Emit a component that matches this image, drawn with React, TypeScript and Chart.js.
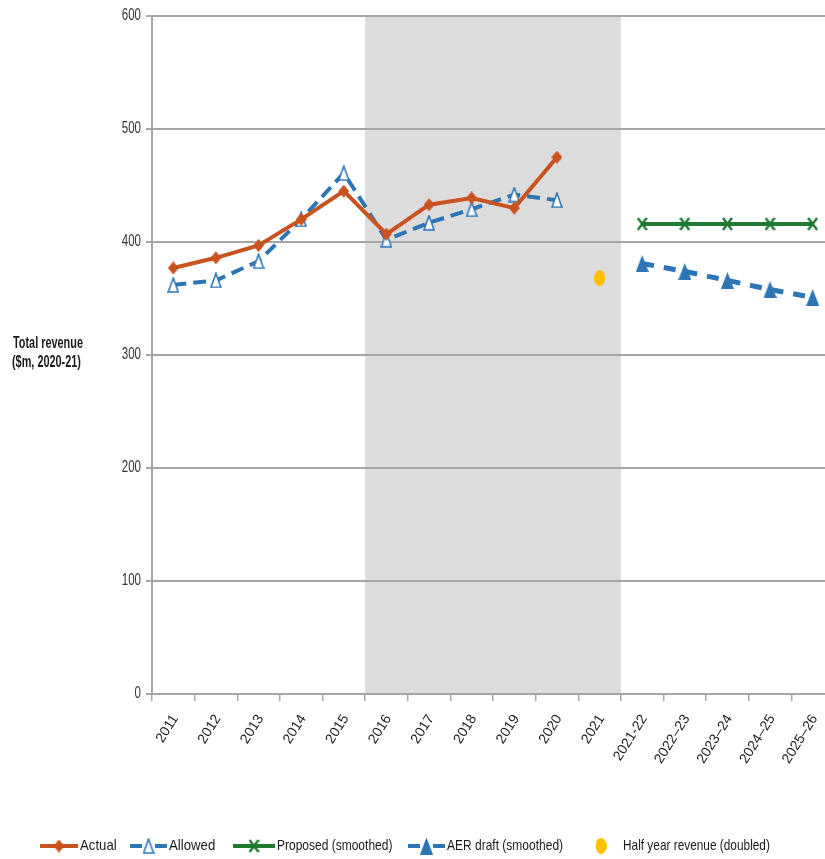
import React, { useEffect, useRef } from "react";
import { Chart, registerables } from "chart.js";

Chart.register(...registerables);

const categories = [
  "2011", "2012", "2013", "2014", "2015", "2016", "2017", "2018", "2019", "2020", "2021",
  "2021-22", "2022–23", "2023–24", "2024–25", "2025–26",
];
const actual = [377, 386, 397, 420, 445, 407, 433, 439, 430, 475, null, null, null, null, null, null];
const allowed = [362, 366, 383, 420, 461, 402, 417, 429, 442, 437, null, null, null, null, null, null];
const proposed = [null, null, null, null, null, null, null, null, null, null, null, 416, 416, 416, 416, 416];
const aerDraft = [null, null, null, null, null, null, null, null, null, null, null, 381, 374, 366, 358, 351];
const halfYear = [null, null, null, null, null, null, null, null, null, null, 368, null, null, null, null, null];
const yTicks = [0, 100, 200, 300, 400, 500, 600];
const shadeFrom = "2016";
const shadeTo = "2021";
const yTitle = ["Total revenue", "($m, 2020-21)"];
const legendLabels = ["Actual", "Allowed", "Proposed (smoothed)", "AER draft (smoothed)", "Half year revenue (doubled)"];

const ORANGE = "#c8531e";
const BLUE = "#2e75b6";
const GREEN = "#1f7a30";
const GOLD = "#ffc000";
const GRID = "#a6a6a6";
const FONT = "'Liberation Sans', Arial, sans-serif";

function makeMarker(kind: string): HTMLCanvasElement {
  const c = document.createElement("canvas");
  const dims: Record<string, [number, number]> = {
    diamond: [11, 13],
    openTri: [12, 16],
    tri: [13, 17],
    x: [11, 14],
    dot: [11, 16],
  };
  const [w, h] = dims[kind];
  c.width = w;
  c.height = h;
  const ctx = c.getContext("2d")!;
  if (kind === "diamond") {
    ctx.fillStyle = ORANGE;
    ctx.beginPath();
    ctx.moveTo(w / 2, 0);
    ctx.lineTo(w, h / 2);
    ctx.lineTo(w / 2, h);
    ctx.lineTo(0, h / 2);
    ctx.closePath();
    ctx.fill();
  } else if (kind === "openTri") {
    ctx.fillStyle = "#ffffff";
    ctx.strokeStyle = BLUE;
    ctx.lineWidth = 1.6;
    ctx.beginPath();
    ctx.moveTo(w / 2, 1);
    ctx.lineTo(w - 1, h - 1);
    ctx.lineTo(1, h - 1);
    ctx.closePath();
    ctx.fill();
    ctx.stroke();
  } else if (kind === "tri") {
    ctx.fillStyle = BLUE;
    ctx.beginPath();
    ctx.moveTo(w / 2, 0);
    ctx.lineTo(w, h);
    ctx.lineTo(0, h);
    ctx.closePath();
    ctx.fill();
  } else if (kind === "x") {
    ctx.strokeStyle = GREEN;
    ctx.lineWidth = 2.4;
    ctx.beginPath();
    ctx.moveTo(1, 1);
    ctx.lineTo(w - 1, h - 1);
    ctx.moveTo(w - 1, 1);
    ctx.lineTo(1, h - 1);
    ctx.stroke();
  } else if (kind === "dot") {
    ctx.fillStyle = GOLD;
    ctx.beginPath();
    ctx.ellipse(w / 2, h / 2, w / 2, h / 2, 0, 0, Math.PI * 2);
    ctx.fill();
  }
  return c;
}

function condensedText(ctx: CanvasRenderingContext2D, text: string, x: number, y: number, sx: number) {
  ctx.save();
  ctx.translate(x, y);
  ctx.scale(sx, 1);
  ctx.fillText(text, 0, 0);
  ctx.restore();
}

const shadePlugin = {
  id: "shade",
  beforeDraw(chart: any) {
    const { ctx, chartArea, scales } = chart;
    const xs = scales.x;
    const i0 = categories.indexOf(shadeFrom);
    const i1 = categories.indexOf(shadeTo);
    const half = (xs.getPixelForValue(1) - xs.getPixelForValue(0)) / 2;
    const left = xs.getPixelForValue(i0) - half;
    const right = xs.getPixelForValue(i1) + half;
    ctx.save();
    ctx.fillStyle = "#dcdcdc";
    ctx.fillRect(left, chartArea.top, right - left, chartArea.bottom - chartArea.top);
    ctx.restore();
  },
};

const makeTextPlugin = (markers: Record<string, HTMLCanvasElement>) => ({
  id: "texts",
  afterDraw(chart: any) {
    const { ctx, scales, chartArea } = chart;
    ctx.save();

    // y tick labels
    ctx.font = `16px ${FONT}`;
    ctx.fillStyle = "#333333";
    ctx.textAlign = "right";
    ctx.textBaseline = "middle";
    yTicks.forEach((v) => {
      condensedText(ctx, String(v), 141, scales.y.getPixelForValue(v), 0.72);
    });

    // x tick labels (rotated)
    ctx.font = `14px ${FONT}`;
    ctx.fillStyle = "#1e1e1e";
    categories.forEach((lab, i) => {
      const x = scales.x.getPixelForValue(i);
      ctx.save();
      ctx.translate(x + 2, chartArea.bottom + 22);
      ctx.rotate((-58 * Math.PI) / 180);
      ctx.textAlign = "right";
      ctx.textBaseline = "middle";
      ctx.fillText(lab, 0, 0);
      ctx.restore();
    });

    // y-axis title
    ctx.font = `bold 16px ${FONT}`;
    ctx.fillStyle = "#1a1a1a";
    ctx.textAlign = "left";
    ctx.textBaseline = "middle";
    condensedText(ctx, yTitle[0], 13, 344, 0.68);
    condensedText(ctx, yTitle[1], 12, 363, 0.68);

    // legend
    const y = 846;
    ctx.font = `15px ${FONT}`;
    ctx.fillStyle = "#1a1a1a";
    const items = [
      { x0: 40, x1: 78, color: ORANGE, dashed: false, marker: "diamond", tx: 80 },
      { x0: 130, x1: 167, color: BLUE, dashed: true, marker: "openTri", tx: 169 },
      { x0: 233, x1: 275, color: GREEN, dashed: false, marker: "x", tx: 277 },
      { x0: 408, x1: 445, color: BLUE, dashed: true, marker: "tri", tx: 447 },
    ];
    items.forEach((it, i) => {
      ctx.save();
      ctx.strokeStyle = it.color;
      ctx.lineWidth = 4;
      ctx.beginPath();
      if (it.dashed) {
        ctx.moveTo(it.x0, y);
        ctx.lineTo(it.x0 + 12, y);
        ctx.moveTo(it.x1 - 12, y);
        ctx.lineTo(it.x1, y);
      } else {
        ctx.moveTo(it.x0, y);
        ctx.lineTo(it.x1, y);
      }
      ctx.stroke();
      ctx.restore();
      const m = markers[it.marker];
      ctx.drawImage(m, (it.x0 + it.x1) / 2 - m.width / 2, y - m.height / 2);
      condensedText(ctx, legendLabels[i], it.tx, y, i < 2 ? 0.88 : 0.8);
    });
    const d = markers.dot;
    ctx.drawImage(d, 601 - d.width / 2, y - d.height / 2);
    condensedText(ctx, legendLabels[4], 623, y, 0.79);
    ctx.restore();
  },
});

export default function App() {
  const ref = useRef<HTMLCanvasElement | null>(null);
  useEffect(() => {
    if (!ref.current) return;
    const markers: Record<string, HTMLCanvasElement> = {
      diamond: makeMarker("diamond"),
      openTri: makeMarker("openTri"),
      tri: makeMarker("tri"),
      x: makeMarker("x"),
      dot: makeMarker("dot"),
    };
    const chart = new Chart(ref.current, {
      type: "line",
      data: {
        labels: categories,
        datasets: [
          {
            label: legendLabels[0],
            data: actual,
            borderColor: ORANGE,
            backgroundColor: ORANGE,
            borderWidth: 4,
            pointStyle: markers.diamond,
            order: 1,
          },
          {
            label: legendLabels[1],
            data: allowed,
            borderColor: BLUE,
            backgroundColor: "#ffffff",
            borderWidth: 4,
            borderDash: [13, 7],
            pointStyle: markers.openTri,
            order: 2,
          },
          {
            label: legendLabels[2],
            data: proposed,
            borderColor: GREEN,
            backgroundColor: GREEN,
            borderWidth: 4,
            pointStyle: markers.x,
            order: 3,
          },
          {
            label: legendLabels[3],
            data: aerDraft,
            borderColor: BLUE,
            backgroundColor: BLUE,
            borderWidth: 5,
            borderDash: [12, 10],
            pointStyle: markers.tri,
            order: 4,
          },
          {
            label: legendLabels[4],
            data: halfYear,
            borderColor: GOLD,
            backgroundColor: GOLD,
            showLine: false,
            pointStyle: markers.dot,
            order: 5,
          },
        ],
      },
      options: {
        animation: false,
        responsive: false,
        devicePixelRatio: 1,
        layout: { padding: { left: 0, right: 11, top: 16, bottom: 0 } },
        plugins: {
          legend: { display: false },
          title: { display: false },
          tooltip: { enabled: false },
        },
        scales: {
          x: {
            type: "category",
            offset: true,
            grid: {
              offset: true,
              drawOnChartArea: false,
              drawTicks: true,
              tickLength: 7,
              color: GRID,
              lineWidth: 1.5,
            },
            border: { color: GRID, width: 2 },
            ticks: { display: false, autoSkip: false },
            afterFit(scale: any) {
              scale.height = 859 - 694;
            },
          },
          y: {
            min: 0,
            max: 600,
            afterBuildTicks(scale: any) {
              scale.ticks = yTicks.map((v) => ({ value: v }));
            },
            grid: {
              color: GRID,
              lineWidth: 2,
              drawTicks: true,
              tickLength: 6,
            },
            border: { color: GRID, width: 2 },
            ticks: { display: false },
            afterFit(scale: any) {
              scale.width = 152;
            },
          },
        },
      },
      plugins: [shadePlugin, makeTextPlugin(markers)],
    });
    return () => chart.destroy();
  }, []);
  return (
    <div style={{ position: "fixed", left: 0, top: 0, width: 845, height: 859, overflow: "hidden", background: "#fff" }}>
      <canvas ref={ref} width={845} height={859} style={{ display: "block" }} />
    </div>
  );
}
